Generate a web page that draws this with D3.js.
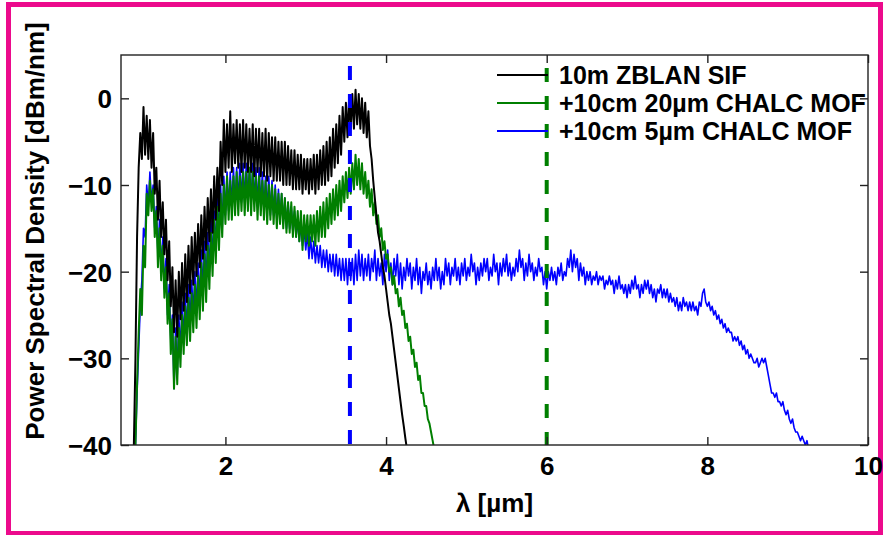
<!DOCTYPE html>
<html lang="en">
<head>
<meta charset="utf-8">
<title>Power spectral density</title>
<style>
  body { margin: 0; background: #fff; }
  svg { display: block; }
  text { font-family: "Liberation Sans", Arial, sans-serif; font-weight: bold; fill: #000; }
</style>
</head>
<body>
<svg></svg>
<script src="https://cdn.jsdelivr.net/npm/d3@7"></script>
<script>
// wavelength grid of the traces (um), one sample every 0.02 um
var step = 0.02;
var blackStart = 0.86, greenStart = 0.88, blueStart = 0.88;

// 10m ZBLAN SIF
var blackPsd = [
  -40, -30, -16, -8, -4, -7, -1, -6.5, -2, -7,
  -2.5, -8, -4, -11, -8, -14, -9.5, -16, -12, -18,
  -14, -21, -16.5, -24, -19.5, -27, -21, -27.5, -20, -25.5,
  -19, -24.5, -18, -23.5, -17, -22.5, -16, -21.5, -15.5, -20.5,
  -14.5, -19.5, -13.5, -18.5, -12.5, -17.5, -11.5, -16.5, -10.5, -15.5,
  -9, -14, -8, -13, -5, -10, -2.5, -8.5, -3, -8,
  -1.5, -8.5, -3, -7.5, -2.5, -8, -3, -8.5, -2.5, -8,
  -3, -8.5, -3.5, -8.5, -3, -9, -3.5, -8.5, -3.5, -9,
  -4, -9, -3.5, -9.5, -4, -9, -4.5, -9.5, -4.5, -9.5,
  -5, -9.5, -5, -10, -5, -10, -5.5, -10, -6, -10.5,
  -6, -10.5, -6.5, -10.5, -6.5, -11, -7, -10.5, -7, -11,
  -7, -10.5, -6.5, -11, -6.5, -10.5, -6, -10, -5.5, -10,
  -5, -9.5, -4.5, -9, -3.5, -8, -3, -7.5, -2, -6.5,
  -1, -5, -0.5, -4.5, 0, -3.5, 0.5, -3.5, 1, -3,
  0.5, -3.5, 0, -4, -0.5, -4.5, -1.5, -5.5, -7, -9.5,
  -11.5, -13.5, -15.5, -16.5, -18, -19.5, -20.5, -22, -23.5, -25,
  -26, -27.5, -29, -30.5, -32, -33.5, -35, -36.5, -37.8, -39.2,
  -40.5
];

// +10cm 20um CHALC MOF
var greenPsd = [
  -40, -33, -27, -22, -25, -17, -19.5, -11, -13.5, -9.5,
  -13, -10.5, -16, -13, -19.5, -15, -21, -17, -23, -19.5,
  -26, -22.5, -29.5, -25.5, -33.5, -27.5, -33, -26.5, -31, -25,
  -29.5, -24, -28.5, -23, -28, -22.5, -27, -21.5, -26.5, -20.5,
  -25.5, -19, -24.5, -18, -23.5, -17, -22, -15.5, -20.5, -14,
  -19, -12.5, -17.5, -11, -16, -10, -14.5, -9, -14, -9.5,
  -14, -9, -13.5, -8.5, -13.5, -9, -13, -8.5, -13.5, -8.5,
  -13, -8, -13.5, -8.5, -13, -9, -14, -9, -13.5, -9.5,
  -14, -9.5, -14.5, -10, -14, -10, -14.5, -10.5, -15, -11,
  -14.5, -11, -15, -11.5, -15.5, -12, -15.5, -12, -16, -12.5,
  -16, -13, -16.5, -13, -17.5, -13.5, -16.5, -13.5, -17, -13.5,
  -16.5, -13.5, -17, -13, -16.5, -12.5, -16, -12, -16, -11.5,
  -15, -11, -14.5, -10.5, -14, -10, -13.5, -9.5, -13, -9,
  -12, -8.5, -11.5, -8, -11, -7.5, -10.5, -6.5, -10, -7,
  -10.5, -7.5, -11, -8.5, -11.5, -9.5, -12.5, -10.5, -13.5, -12,
  -14.5, -13.5, -16, -15, -17.5, -16.5, -18.5, -18, -20, -19.5,
  -21.5, -20.5, -22.5, -22, -24, -23, -25, -24.5, -26.5, -26,
  -28, -27.5, -29.5, -29, -31, -30.5, -32.5, -32, -34, -34,
  -35.5, -35.5, -37, -37.5, -38.5, -39.5, -40.5
];

// +10cm 5um CHALC MOF
var bluePsd = [
  -40, -34, -29, -24, -21, -15, -16, -10, -12.5, -8.5,
  -12, -10, -15, -12.5, -18, -14, -20, -16, -22, -18.5,
  -25, -21.5, -28, -25, -33.5, -26.5, -32, -25, -29.5, -23.5,
  -28, -22.5, -27, -21.5, -26, -21, -25, -20, -24.5, -19,
  -23.5, -17.5, -22.5, -16.5, -21.5, -15.5, -20, -14, -19, -13,
  -17.5, -11.5, -16, -10, -15, -9, -13.5, -8.5, -13, -8.5,
  -12.5, -8, -12.5, -8, -12, -7.5, -12, -7.5, -12, -7.5,
  -11.5, -8, -12, -7.5, -12, -8, -12.5, -8, -12.5, -8.5,
  -13, -9, -13, -9, -13.5, -9.5, -13.5, -10, -14, -10.5,
  -14, -11, -14.5, -11.5, -15, -12, -15, -12.5, -15.5, -13,
  -16, -14, -16.5, -14.5, -17, -15, -17.5, -15.5, -18.5, -16,
  -18.5, -16.5, -19, -17, -19, -17, -19.5, -17.5, -19.5, -17.5,
  -20, -18, -20, -18, -20.5, -18, -20.5, -18.5, -21, -18.5,
  -21, -18.5, -21.5, -18.5, -21, -18.5, -21.5, -18, -21, -17.5,
  -20.5, -18, -21, -18.5, -20.5, -18, -21, -18.5, -20, -17.5,
  -21, -18.5, -20.5, -19, -21.5, -18, -20, -17.5, -21, -19,
  -21.5, -18.5, -20.5, -18, -21.5, -19, -22, -19.5, -21, -18.5,
  -20.5, -19, -22, -19.5, -21, -18.5, -21.5, -19.5, -22.5, -20,
  -21, -19, -21.5, -20, -22, -19.5, -21, -18.5, -21, -19.5,
  -22, -20, -21.5, -18.5, -20.5, -19, -21.5, -19.5, -20.5, -18.5,
  -21, -19.5, -21.5, -19, -20.5, -18.5, -21, -19.5, -20.5, -18,
  -20, -19, -21.5, -19.5, -21, -19, -20.5, -18.5, -20, -18.5,
  -21, -19.5, -20.5, -18, -20, -19, -21.5, -19, -20.5, -18.5,
  -20, -18, -20.5, -19, -21, -19.5, -20.5, -18.5, -20, -17.5,
  -19.5, -18.5, -21, -19, -20.5, -18, -20, -19, -21, -19.5,
  -20.5, -18.5, -20, -19.5, -21.5, -20, -22, -20, -21, -19.5,
  -21, -20, -21.5, -19.5, -20.5, -19, -21, -20, -20.5, -18.5,
  -19.5, -17.5, -20, -18, -19.5, -18.5, -21, -19, -20.5, -19.5,
  -21.5, -20, -21, -20, -21.5, -20.5, -21, -20, -21.5, -20.5,
  -21, -20.5, -22, -21, -21.5, -20.5, -21.5, -21, -22.5, -21,
  -22, -20.5, -22, -21.5, -22.5, -21.5, -23, -21.5, -22.5, -21,
  -22, -20.5, -22, -21.5, -23, -21.5, -22.5, -21, -22, -21,
  -22.5, -21.5, -23, -22, -23.5, -22, -22.5, -21.5, -23, -22,
  -23, -22, -23.5, -22.5, -23.5, -23, -24, -23, -24.5, -23.5,
  -24.5, -23, -24, -23.5, -24.5, -23.5, -24.5, -23.5, -24.5, -24,
  -25, -23.5, -24, -22.5, -22, -23.5, -24, -23.5, -24.5, -24,
  -25, -24.5, -25.5, -25, -26, -25.5, -26.5, -26, -27, -26.5,
  -27, -27, -28, -27.5, -28, -27.5, -28.5, -28, -29, -28.5,
  -29.5, -29, -30, -29.5, -30, -30.5, -30.5, -30, -31, -30.5,
  -30, -30.5, -30, -31, -32, -33, -34, -34, -34.5, -34,
  -35, -35, -35.5, -35, -36, -36.5, -36, -37, -37.5, -37,
  -38, -38.5, -38.5, -39, -39.5, -39, -39.5, -40, -39.5, -40.5
];

// vertical dashed markers (um)
var markers = [
  {x: 3.55, color: "#0000ff"},
  {x: 6.0, color: "#007f00"}
];

var seriesNames = ["10m ZBLAN SIF", "+10cm 20\u00b5m CHALC MOF", "+10cm 5\u00b5m CHALC MOF"];
var seriesColors = ["#000000", "#007f00", "#0000ff"];

var xTicks = [2, 4, 6, 8, 10];
var yTicks = [-40, -30, -20, -10, 0];

(function() {

  var width = 886,
    height = 535;

  var svg = d3.select("svg")
    .attr("width", width)
    .attr("height", height);

  var left = 121, right = 868, top = 55, bottom = 445;

  var x = d3.scaleLinear().domain([0.7, 10]).range([left, right]);
  var y = d3.scaleLinear().domain([-40, 5]).range([bottom, top]);

  // pink frame round the figure
  svg.append("rect")
    .attr("x", 8.5).attr("y", 4.5)
    .attr("width", 872).attr("height", 529)
    .attr("fill", "#fff")
    .attr("stroke", "#ec0a8c")
    .attr("stroke-width", 5);

  svg.append("clipPath").attr("id", "plotclip")
    .append("rect")
    .attr("x", left).attr("y", top)
    .attr("width", right - left).attr("height", bottom - top);

  function toPoints(start, vals) {
    return vals.map(function(v, i) {
      return [start + i * step, v];
    });
  }

  var line = d3.line()
    .x(function(d) { return x(d[0]); })
    .y(function(d) { return y(d[1]); });

  var plot = svg.append("g").attr("clip-path", "url(#plotclip)");

  // blue under green under black
  var traces = [
    {pts: toPoints(blueStart, bluePsd), color: seriesColors[2], w: 1.6},
    {pts: toPoints(greenStart, greenPsd), color: seriesColors[1], w: 2},
    {pts: toPoints(blackStart, blackPsd), color: seriesColors[0], w: 2}
  ];

  plot.selectAll("path.trace")
    .data(traces)
    .enter().append("path")
    .attr("class", "trace")
    .attr("fill", "none")
    .attr("stroke", function(d) { return d.color; })
    .attr("stroke-width", function(d) { return d.w; })
    .attr("stroke-linejoin", "round")
    .attr("d", function(d) { return line(d.pts); });

  // legend (no box)
  var legend = svg.append("g");
  seriesNames.forEach(function(name, i) {
    var ly = 75 + i * 28;
    legend.append("line")
      .attr("x1", 497).attr("x2", 548)
      .attr("y1", ly).attr("y2", ly)
      .attr("stroke", seriesColors[i])
      .attr("stroke-width", 2);
    legend.append("text")
      .attr("x", 559).attr("y", ly + 9)
      .attr("font-size", 25)
      .text(name);
  });

  // dashed markers
  plot.selectAll("line.marker")
    .data(markers)
    .enter().append("line")
    .attr("class", "marker")
    .attr("x1", function(d) { return x(d.x); })
    .attr("x2", function(d) { return x(d.x); })
    .attr("y1", y(5))
    .attr("y2", y(-40))
    .attr("stroke", function(d) { return d.color; })
    .attr("stroke-width", 4)
    .attr("stroke-dasharray", "14,14")
    .attr("stroke-dashoffset", function(d, i) { return i ? 15 : 17; });

  // axes, ticks inside on all four sides
  var fmt = function(d) { return d3.format("d")(d).replace("-", "\u2212"); };

  var gx = svg.append("g")
    .attr("transform", "translate(0," + bottom + ")")
    .call(d3.axisBottom(x).tickValues(xTicks).tickSize(-8).tickSizeOuter(0).tickPadding(12).tickFormat(fmt));
  var gy = svg.append("g")
    .attr("transform", "translate(" + left + ",0)")
    .call(d3.axisLeft(y).tickValues(yTicks).tickSize(-8).tickSizeOuter(0).tickPadding(9).tickFormat(fmt));
  var gt = svg.append("g")
    .attr("transform", "translate(0," + top + ")")
    .call(d3.axisTop(x).tickValues(xTicks).tickSize(-8).tickSizeOuter(0).tickFormat(""));
  var gr = svg.append("g")
    .attr("transform", "translate(" + right + ",0)")
    .call(d3.axisRight(y).tickValues(yTicks).tickSize(-8).tickSizeOuter(0).tickFormat(""));

  [gx, gy, gt, gr].forEach(function(g) {
    g.select(".domain").remove();
    g.selectAll(".tick line").attr("stroke", "#222").attr("stroke-width", 1.4);
    g.selectAll("text")
      .attr("font-family", null)
      .attr("font-size", 26)
      .attr("fill", "#000");
  });
  gx.selectAll("text").attr("dy", "0.71em");
  gy.selectAll("text").attr("dy", "0.36em");

  svg.append("rect")
    .attr("x", left).attr("y", top)
    .attr("width", right - left).attr("height", bottom - top)
    .attr("fill", "none")
    .attr("stroke", "#222")
    .attr("stroke-width", 1.4);

  // axis titles
  svg.append("text")
    .attr("x", (left + right) / 2)
    .attr("y", 512)
    .attr("text-anchor", "middle")
    .attr("font-size", 26)
    .text("\u03bb [\u00b5m]");

  svg.append("text")
    .attr("transform", "translate(44,231) rotate(-90)")
    .attr("text-anchor", "middle")
    .attr("font-size", 26)
    .text("Power Spectral Density [dBm/nm]");

})();
</script>
</body>
</html>
